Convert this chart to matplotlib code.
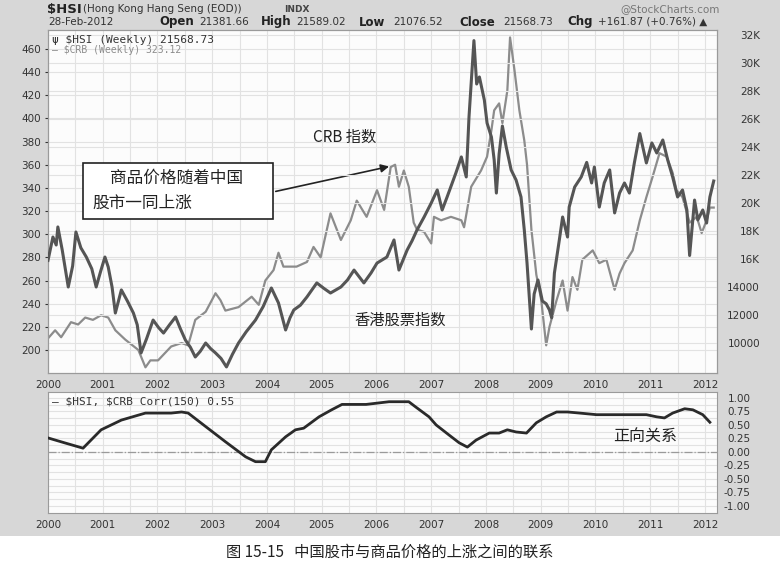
import matplotlib
matplotlib.use("Agg")
import matplotlib.pyplot as plt
from matplotlib.patches import Rectangle

plt.rcParams['font.family'] = ['DejaVu Sans', 'Noto Sans CJK SC']

# weekly $HSI (right axis)
hsi_t = [2000.00, 2000.09, 2000.15, 2000.18, 2000.26, 2000.37, 2000.45, 2000.51, 2000.60, 2000.70,
         2000.80, 2000.88, 2000.96, 2001.04, 2001.10, 2001.17, 2001.23, 2001.34, 2001.45, 2001.56,
         2001.63, 2001.70, 2001.80, 2001.92, 2002.02, 2002.11, 2002.22, 2002.33, 2002.42, 2002.51,
         2002.60, 2002.69, 2002.78, 2002.88, 2002.97, 2003.06, 2003.16, 2003.26, 2003.37, 2003.48,
         2003.62, 2003.79, 2003.93, 2004.08, 2004.21, 2004.34, 2004.42, 2004.49, 2004.61, 2004.73,
         2004.91, 2005.04, 2005.16, 2005.35, 2005.47, 2005.59, 2005.77, 2005.90, 2006.01, 2006.19,
         2006.32, 2006.41, 2006.56, 2006.65, 2006.74, 2006.87, 2007.00, 2007.11, 2007.20, 2007.29,
         2007.45, 2007.55, 2007.64, 2007.69, 2007.78, 2007.83, 2007.88, 2007.97, 2008.02, 2008.10,
         2008.15, 2008.19, 2008.24, 2008.30, 2008.37, 2008.46, 2008.55, 2008.64, 2008.70, 2008.75,
         2008.83, 2008.88, 2008.95, 2009.03, 2009.10, 2009.16, 2009.20, 2009.25, 2009.34, 2009.40,
         2009.49, 2009.52, 2009.62, 2009.74, 2009.84, 2009.93, 2009.98, 2010.07, 2010.16, 2010.26,
         2010.35, 2010.44, 2010.53, 2010.62, 2010.71, 2010.81, 2010.93, 2011.03, 2011.12, 2011.23,
         2011.32, 2011.41, 2011.50, 2011.59, 2011.67, 2011.72, 2011.81, 2011.87, 2011.96, 2012.03,
         2012.09, 2012.16]
hsi_v = [15900, 17570, 17000, 18290, 16640, 14000, 15500, 17930, 16800, 16140,
         15300, 14000, 15100, 16140, 15430, 14000, 12140, 13790, 13000, 12140,
         11300, 9290, 10300, 11640, 11100, 10710, 11300, 11860, 11000, 10210,
         9700, 9000, 9400, 10000, 9600, 9290, 8900, 8290, 9200, 10000,
         10800, 11640, 12600, 13930, 12860, 10930, 11800, 12360, 12700, 13290,
         14290, 13900, 13570, 14000, 14500, 15210, 14290, 15000, 15710, 16140,
         17360, 15210, 16640, 17300, 18070, 19000, 20000, 20930, 19500, 20430,
         22140, 23290, 21860, 26140, 31600, 28500, 29000, 27360, 25710, 24710,
         23070, 20710, 23500, 25500, 24000, 22360, 21640, 20430, 18070, 15710,
         11000, 13500, 14500, 13000, 12800, 12360, 11800, 15000, 17360, 19000,
         17570, 19710, 21140, 21860, 22900, 21430, 22570, 19710, 21430, 22360,
         19290, 20710, 21430, 20710, 22860, 24960, 22860, 24290, 23570, 24500,
         23070, 21860, 20430, 20930, 19500, 16250, 20210, 18790, 19500, 18570,
         20430, 21570]

# weekly $CRB (left axis)
crb_t = [2000.00, 2000.13, 2000.24, 2000.42, 2000.55, 2000.68, 2000.82, 2000.97, 2001.10, 2001.23,
         2001.41, 2001.65, 2001.78, 2001.87, 2002.01, 2002.25, 2002.44, 2002.56, 2002.69, 2002.88,
         2003.06, 2003.15, 2003.24, 2003.48, 2003.72, 2003.85, 2003.97, 2004.12, 2004.21, 2004.30,
         2004.54, 2004.73, 2004.85, 2004.98, 2005.16, 2005.35, 2005.53, 2005.64, 2005.82, 2006.01,
         2006.14, 2006.26, 2006.34, 2006.41, 2006.50, 2006.59, 2006.68, 2006.74, 2006.87, 2007.00,
         2007.05, 2007.18, 2007.36, 2007.55, 2007.60, 2007.73, 2007.91, 2008.02, 2008.10, 2008.15,
         2008.24, 2008.30, 2008.39, 2008.44, 2008.52, 2008.61, 2008.70, 2008.75, 2008.83, 2008.92,
         2009.01, 2009.10, 2009.16, 2009.29, 2009.40, 2009.49, 2009.58, 2009.67, 2009.76, 2009.95,
         2010.07, 2010.20, 2010.35, 2010.44, 2010.53, 2010.68, 2010.81, 2010.93, 2011.04, 2011.17,
         2011.30, 2011.41, 2011.48, 2011.59, 2011.72, 2011.85, 2011.94, 2012.03, 2012.09, 2012.16]
crb_v = [210, 217, 211, 224, 222, 228, 226, 230, 228, 217,
         209, 200, 185, 191, 191, 203, 206, 204, 226, 233,
         249, 243, 234, 237, 246, 239, 260, 269, 284, 272,
         272, 276, 289, 280, 318, 295, 312, 329, 315, 338,
         321, 358, 360, 341, 355, 341, 310, 304, 302, 292,
         315, 312, 315, 312, 306, 341, 355, 367, 390, 407,
         413, 396, 424, 470, 442, 407, 381, 360, 304, 265,
         243, 204, 220, 243, 260, 234, 263, 252, 278, 286,
         275, 278, 252, 266, 275, 286, 312, 332, 349, 370,
         367, 353, 338, 332, 310, 315, 301, 312, 323, 323]

# $HSI,$CRB Corr(150)
corr_t = [2000.00, 2000.30, 2000.64, 2000.97, 2001.34, 2001.78, 2002.25, 2002.44, 2002.56, 2002.88,
          2003.24, 2003.61, 2003.79, 2003.97, 2004.08, 2004.34, 2004.52, 2004.67, 2004.95, 2005.18,
          2005.37, 2005.81, 2006.23, 2006.59, 2006.72, 2006.96, 2007.09, 2007.33, 2007.51, 2007.66,
          2007.82, 2008.06, 2008.24, 2008.39, 2008.55, 2008.74, 2008.92, 2009.10, 2009.29, 2009.49,
          2009.71, 2010.02, 2010.44, 2010.93, 2011.12, 2011.26, 2011.41, 2011.63, 2011.78, 2011.96,
          2012.09]
corr_v = [0.26, 0.17, 0.07, 0.41, 0.59, 0.72, 0.72, 0.74, 0.72, 0.47,
          0.19, -0.09, -0.18, -0.18, 0.04, 0.28, 0.41, 0.44, 0.65, 0.78,
          0.88, 0.88, 0.93, 0.93, 0.83, 0.65, 0.50, 0.31, 0.17, 0.09,
          0.22, 0.35, 0.35, 0.41, 0.37, 0.35, 0.54, 0.65, 0.74, 0.74,
          0.72, 0.69, 0.69, 0.69, 0.65, 0.63, 0.72, 0.80, 0.78, 0.69,
          0.55]

years = list(range(2000, 2013))
crb_ticks = list(range(200, 461, 20))
hsi_ticks = list(range(10000, 32001, 2000))
hsi_labels = ['10000', '12000', '14000', '16K', '18K', '20K', '22K', '24K', '26K', '28K', '30K', '32K']
corr_ticks = [1.0, 0.75, 0.5, 0.25, 0.0, -0.25, -0.5, -0.75, -1.0]

W, H = 780, 576
def fx(x):
    return x / W
def fy(y):
    return 1 - y / H

fig = plt.figure(figsize=(7.8, 5.76), dpi=100)
fig.patches.append(Rectangle((0, fy(536)), 1, 536 / H, transform=fig.transFigure,
                             facecolor='#d7d7d7', edgecolor='none', zorder=-10))

tick_col = '#333333'
grid_col = '#e2e2e2'

# main panel
ax = fig.add_axes([fx(48), fy(373), fx(717) - fx(48), fy(30) - fy(373)])
ax.set_facecolor('#fcfcfc')
ax.plot(crb_t, crb_v, color='#8c8c8c', lw=1.6, zorder=3)
ax.set_xlim(2000, 2012.22)
ax.set_ylim(180.1, 476.4)
ax.set_yticks(crb_ticks)
ax.set_xticks(years)
ax.set_xticks([y + 0.5 for y in years[:-1]], minor=True)
ax.grid(True, which='both', color=grid_col, lw=0.8)
ax.set_axisbelow(True)
ax.tick_params(axis='y', labelsize=7.5, colors=tick_col, length=2, pad=3)
ax.tick_params(axis='x', labelsize=7.5, colors=tick_col, length=0, pad=5)
ax.tick_params(axis='x', which='minor', length=0)
for s in ax.spines.values():
    s.set_color('#9a9a9a')

ax2 = ax.twinx()
ax2.plot(hsi_t, hsi_v, color='#555555', lw=2.2, zorder=4)
ax2.set_ylim(7857, 32357)
ax2.set_yticks(hsi_ticks)
ax2.set_yticklabels(hsi_labels)
ax2.grid(True, axis='y', color=grid_col, lw=0.8)
ax2.tick_params(axis='y', labelsize=7.5, colors=tick_col, length=0, pad=31)
for lab in ax2.get_yticklabels():
    lab.set_horizontalalignment('right')
for s in ax2.spines.values():
    s.set_color('#9a9a9a')

ax2.text(0.006, 0.985, 'ψ \\$HSI (Weekly) 21568.73', transform=ax2.transAxes, ha='left', va='top',
         fontsize=8, family='DejaVu Sans Mono', color='#333333')
ax2.text(0.006, 0.955, '— \\$CRB (Weekly) 323.12', transform=ax2.transAxes, ha='left', va='top',
         fontsize=7, family='DejaVu Sans Mono', color='#8c8c8c')

# lower panel
axc = fig.add_axes([fx(48), fy(513), fx(717) - fx(48), fy(392) - fy(513)])
axc.set_facecolor('#fcfcfc')
axc.plot(corr_t, corr_v, color='#2a2a2a', lw=2.0, zorder=3)
axc.axhline(0, color='#9a9a9a', lw=0.9, ls='-.', zorder=2)
axc.set_xlim(2000, 2012.22)
axc.set_ylim(-1.13, 1.11)
axc.set_xticks(years)
axc.set_xticks([y + 0.5 for y in years[:-1]], minor=True)
axc.set_yticks(corr_ticks)
axc.set_yticks([v + 0.125 for v in corr_ticks[1:]], minor=True)
axc.yaxis.tick_right()
axc.set_yticklabels(['%.2f' % v for v in corr_ticks])
axc.grid(True, which='both', color=grid_col, lw=0.8)
axc.set_axisbelow(True)
axc.tick_params(axis='y', labelsize=7.5, colors=tick_col, length=0, pad=24)
axc.tick_params(axis='y', which='minor', length=0)
for lab in axc.get_yticklabels():
    lab.set_horizontalalignment('right')
axc.tick_params(axis='x', labelsize=7.5, colors=tick_col, length=0, pad=5)
axc.tick_params(axis='x', which='minor', length=0)
for s in axc.spines.values():
    s.set_color('#9a9a9a')
axc.text(0.006, 0.96, '— \\$HSI, \\$CRB Corr(150) 0.55', transform=axc.transAxes, ha='left', va='top',
         fontsize=8, family='DejaVu Sans Mono', color='#333333')

# header
fig.text(fx(47), fy(9), '\\$HSI', fontsize=9.5, fontweight='bold', va='center', color='#222222')
fig.text(fx(83), fy(9), '(Hong Kong Hang Seng (EOD))', fontsize=7.5, va='center', color='#333333')
fig.text(fx(284), fy(9), 'INDX', fontsize=6.5, fontweight='bold', va='center', color='#444444')
fig.text(fx(720), fy(9), '@StockCharts.com', fontsize=7.5, va='center', ha='right', color='#777777')
fig.text(fx(48), fy(22), '28-Feb-2012', fontsize=7.5, va='center', color='#333333')
head = [(159, 'Open', True), (199, '21381.66', False), (261, 'High', True), (296, '21589.02', False),
        (359, 'Low', True), (393, '21076.52', False), (459, 'Close', True), (503, '21568.73', False),
        (567, 'Chg', True), (598, '+161.87 (+0.76%) ▲', False)]
for x, s, b in head:
    fig.text(fx(x), fy(22), s, fontsize=8.5 if b else 7.5, fontweight='bold' if b else 'normal',
             va='center', color='#222222' if b else '#333333')

# annotations
cjk = ['Noto Sans CJK SC', 'DejaVu Sans']
fig.text(fx(345), fy(137), 'CRB 指数', fontsize=11, family=cjk, ha='center', va='center', color='#222222')
fig.text(fx(400), fy(320), '香港股票指数', fontsize=11, family=cjk, ha='center', va='center', color='#222222')
fig.text(fx(645), fy(437), '正向关系', fontsize=11.5, family=cjk, ha='center', va='center', color='#222222')
fig.patches.append(Rectangle((fx(83), fy(219)), fx(273) - fx(83), fy(163) - fy(219), transform=fig.transFigure,
                             facecolor='white', edgecolor='#222222', lw=1.2, zorder=5))
fig.text(fx(110), fy(178), '商品价格随着中国', fontsize=12, family=cjk, va='center', color='#222222', zorder=6)
fig.text(fx(92), fy(203), '股市一同上涨', fontsize=12, family=cjk, va='center', color='#222222', zorder=6)
ax.annotate('', xy=(2006.28, 359), xytext=(fx(273), fy(192)), textcoords='figure fraction',
            arrowprops=dict(arrowstyle='-|>', color='#222222', lw=1.2, mutation_scale=12), zorder=6)

fig.text(0.5, fy(552), '图 15-15   中国股市与商品价格的上涨之间的联系', fontsize=11, family=cjk,
         ha='center', va='center', color='#222222')

fig.savefig('out.png', dpi=100)
